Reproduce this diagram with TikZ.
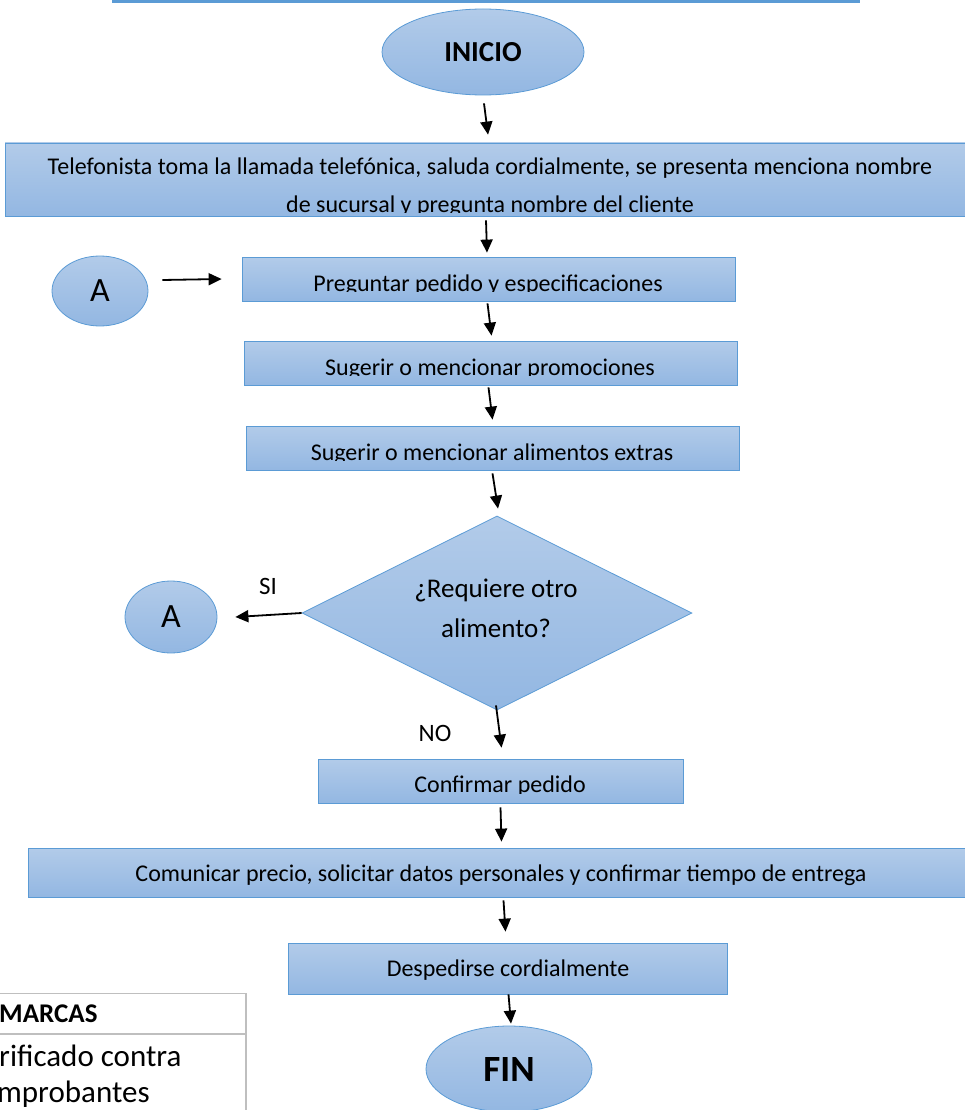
\documentclass[tikz,border=0pt]{standalone}
\usepackage{fontspec}
\setmainfont{Carlito}
\usetikzlibrary{arrows.meta,shapes.geometric}
\definecolor{edgeblue}{RGB}{91,155,213}
\definecolor{filltop}{RGB}{178,203,233}
\definecolor{fillbot}{RGB}{147,183,226}
\definecolor{gridgray}{RGB}{191,191,191}
\tikzset{
  shaded/.style={draw=edgeblue, line width=0.8pt, top color=filltop, bottom color=fillbot, inner sep=0pt},
  procbox/.style={shaded, rectangle},
  term/.style={shaded, ellipse, font=\fontsize{29}{33}\selectfont\bfseries},
  conn/.style={shaded, ellipse, font=\fontsize{34}{38}\selectfont},
  decision/.style={shaded, diamond, aspect=2},
  boxtext/.style={inner sep=0pt, anchor=base, font=\fontsize{24}{28}\selectfont},
  dectext/.style={inner sep=0pt, anchor=base, font=\fontsize{27}{30}\selectfont},
  lbl/.style={inner sep=0pt, font=\fontsize{25}{28}\selectfont},
  arr/.style={line width=1.8pt, -{Triangle[length=13pt,width=12pt]}},
}
% text frame of a box: its lower edge sits a little above the box's lower edge
\newcommand{\clipbox}[2]{\clip (#1.north west) rectangle ([yshift=#2pt]#1.south east);}
\begin{document}
\begin{tikzpicture}[x=1pt,y=-1pt]
\useasboundingbox (0,0) rectangle (964,1110);

% title rule
\draw[edgeblue, line width=3.5pt] (112,1.5) -- (860,1.5);

% start
\node[term, minimum width=202pt, minimum height=86pt] (inicio) at (483,52) {INICIO};

% step 1
\node[procbox, minimum width=960pt, minimum height=73pt] (b1) at (485,179.5) {};
\begin{scope}\clipbox{b1}{4}
\node[boxtext] (t1a) at (490,175) {Telefonista toma la llamada telefónica, saluda cordialmente, se presenta menciona nombre};
\node[boxtext] (t1b) at (490,212) {de sucursal y pregunta nombre del cliente};
\end{scope}

% connector A (entry)
\node[conn, minimum width=96pt, minimum height=70pt] (a1) at (100,291) {A};

% step 2
\node[procbox, minimum width=493pt, minimum height=44pt] (b2) at (488.5,279) {};
\begin{scope}\clipbox{b2}{10}
\node[boxtext] (t2) at (488,291) {Preguntar pedido y especificaciones};
\end{scope}

% step 3
\node[procbox, minimum width=493pt, minimum height=44pt] (b3) at (490.5,363) {};
\begin{scope}\clipbox{b3}{10}
\node[boxtext] (t3) at (490,375) {Sugerir o mencionar promociones};
\end{scope}

% step 4
\node[procbox, minimum width=493pt, minimum height=44pt] (b4) at (492.5,448) {};
\begin{scope}\clipbox{b4}{10}
\node[boxtext] (t4) at (492,460) {Sugerir o mencionar alimentos extras};
\end{scope}

% decision
\node[decision, minimum width=390pt, minimum height=194pt] (d) at (497,613) {};
\node[dectext] (dq1) at (496,597) {¿Requiere otro};
\node[dectext] (dq2) at (496,637) {alimento?};

% connector A (exit)
\node[conn, minimum width=92pt, minimum height=72pt] (a2) at (171,617) {A};
\node[lbl] (si) at (268,586) {SI};
\node[lbl] (no) at (435,733) {NO};

% step 5
\node[procbox, minimum width=365pt, minimum height=44pt] (b5) at (500.5,781) {};
\begin{scope}\clipbox{b5}{10}
\node[boxtext] (t5) at (500,792) {Confirmar pedido};
\end{scope}

% step 6
\node[procbox, minimum width=940pt, minimum height=49pt] (b6) at (498,872.5) {};
\node[boxtext] (t6) at (501,881) {Comunicar precio, solicitar datos personales y confirmar tiempo de entrega};

% step 7
\node[procbox, minimum width=439pt, minimum height=51pt] (b7) at (507.5,968.5) {};
\node[boxtext] (t7) at (508,976) {Despedirse cordialmente};

% end
\node[term, minimum width=166pt, minimum height=86pt, font=\fontsize{37}{40}\selectfont\bfseries] (fin) at (509,1069) {FIN};

% flow
\draw[arr] ([shift={(1,8)}]inicio.south) -- ([shift={(3,-8)}]b1.north);
\draw[arr] ([shift={(1,4)}]b1.south) -- ([shift={(2,-4)}]b1.south |- b2.north);
\draw[arr] ([shift={(14,-11)}]a1.east) -- ([xshift=-20pt]b2.west);
\draw[arr] ([shift={(-1,2)}]b2.south) -- ([shift={(1,-5)}]b3.north);
\draw[arr] ([shift={(-2,2)}]b3.south) -- ([shift={(0,-6)}]b4.north);
\draw[arr] ([shift={(0,3)}]b4.south) -- ([shift={(1,-7)}]d.north);
\draw[arr] (d.west) -- ([xshift=18pt]a2.east);
\draw[arr] ([shift={(-1,-5)}]d.south) -- ([shift={(1,-11)}]b5.north);
\draw[arr] ([shift={(0,4)}]b5.south) -- ([shift={(1,-6)}]b5.south |- b6.north);
\draw[arr] ([shift={(-4,3)}]b6.south -| b7.north) -- ([shift={(-2,-11)}]b7.north);
\draw[arr] ([shift={(1,0)}]b7.south) -- ([shift={(2,-2)}]fin.north);

% marks table
\draw[gridgray, line width=1.3pt] (-5,993.5) -- (246,993.5) -- (246,1115);
\draw[gridgray, line width=1.3pt] (-5,1034) -- (246,1034);
\node[lbl, anchor=west, font=\fontsize{27}{30}\selectfont\bfseries] (mh) at (-1,1014) {MARCAS};
\node[lbl, anchor=west, font=\fontsize{31}{34}\selectfont] (m1) at (-1,1056) {rificado contra};
\node[lbl, anchor=west, font=\fontsize{31}{34}\selectfont] (m2) at (-3,1094) {mprobantes};
\end{tikzpicture}
\end{document}
